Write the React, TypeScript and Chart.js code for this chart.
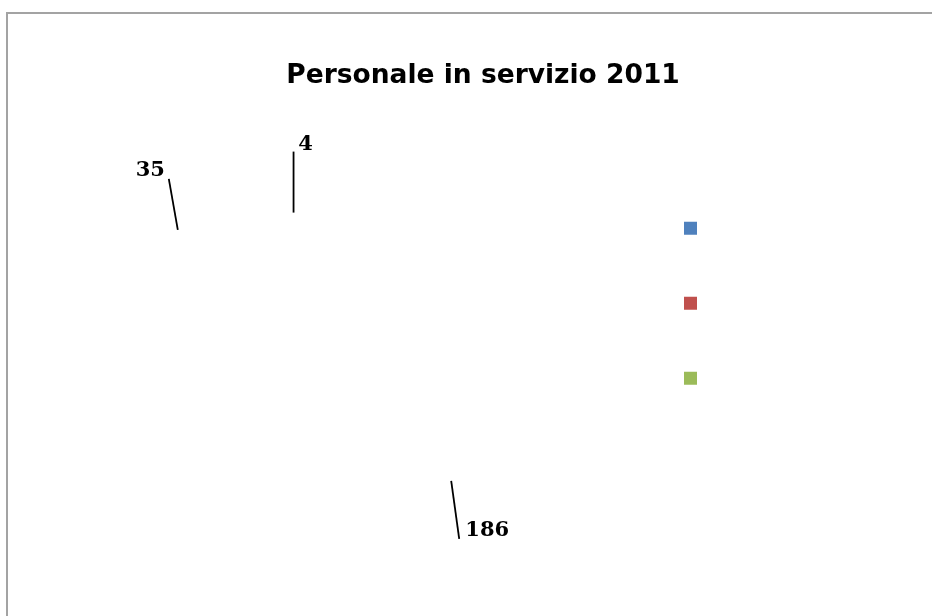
import { useEffect, useRef } from 'react';
import { Chart, registerables, layouts } from 'chart.js';

Chart.register(...registerables);

// ---- chart content ----
const TITLE = 'Personale in servizio 2011';
// legend entries carry no caption, only the colour swatch
const CATEGORIES = ['', '', ''];
const VALUES = [35, 4, 186];
const SLICE_COLORS = ['#4F81BD', '#C0504D', '#9BBB59'];

// ---- pie geometry / label styling ----
const PIE_RADIUS = 200;
const PIE_ROTATION = -50;
// where on each slice's rim (0 = start, 1 = end) the leader line begins
const LEADER_ANCHOR = [0.437, 0.39, 0.33];
// leader line direction and length from the rim, in px
const LEADER_VECTOR: [number, number][] = [[-9, -51], [0, -61], [8, 58]];
// value label centre relative to the outer end of its leader line
const LABEL_OFFSET: [number, number][] = [[-18.5, -8], [12, -7], [28, -8]];

const CANVAS_W = 1154;
const CANVAS_H = 661;
// blank strip of the chart to the right of the legend
const RIGHT_MARGIN = 346.5;

// Draws a leader line from each slice's rim and the slice value beside it.
const leaderLabels = {
  id: 'leaderLabels',
  afterDatasetsDraw(chart: any) {
    const { ctx } = chart;
    const meta = chart.getDatasetMeta(0);
    const values = chart.data.datasets[0].data as number[];
    ctx.save();
    ctx.strokeStyle = '#000';
    ctx.lineWidth = 1.8;
    ctx.fillStyle = '#000';
    ctx.font = 'bold 21px "DejaVu Serif"';
    ctx.textAlign = 'center';
    ctx.textBaseline = 'middle';
    meta.data.forEach((arc: any, i: number) => {
      const { x, y, startAngle, endAngle, outerRadius } = arc.getProps(
        ['x', 'y', 'startAngle', 'endAngle', 'outerRadius'],
        true
      );
      const a = startAngle + LEADER_ANCHOR[i] * (endAngle - startAngle);
      const sx = x + Math.cos(a) * outerRadius;
      const sy = y + Math.sin(a) * outerRadius;
      const ex = sx + LEADER_VECTOR[i][0];
      const ey = sy + LEADER_VECTOR[i][1];
      ctx.beginPath();
      ctx.moveTo(sx, sy);
      ctx.lineTo(ex, ey);
      ctx.stroke();
      ctx.fillText(String(values[i]), ex + LABEL_OFFSET[i][0], ey + LABEL_OFFSET[i][1]);
    });
    ctx.restore();
  },
};

// Reserves an empty layout box outside the legend on the right-hand side.
const rightMargin = {
  id: 'rightMargin',
  start(chart: any) {
    const box: any = {
      position: 'right',
      weight: 2000,
      fullSize: true,
      options: {},
      left: 0,
      top: 0,
      right: 0,
      bottom: 0,
      width: 0,
      height: 0,
      isHorizontal() {
        return false;
      },
      update(_maxWidth: number, maxHeight: number) {
        this.width = RIGHT_MARGIN;
        this.height = maxHeight;
      },
      draw() {},
    };
    chart.$rightMargin = box;
    layouts.addBox(chart, box);
  },
  stop(chart: any) {
    if (chart.$rightMargin) layouts.removeBox(chart, chart.$rightMargin);
    delete chart.$rightMargin;
  },
};

export default function App() {
  const canvasRef = useRef<HTMLCanvasElement | null>(null);

  useEffect(() => {
    const canvas = canvasRef.current;
    if (!canvas) return;
    const chart = new Chart(canvas, {
      type: 'pie',
      data: {
        labels: CATEGORIES,
        datasets: [
          {
            data: VALUES,
            backgroundColor: 'rgba(0,0,0,0)',
            borderWidth: 0,
          },
        ],
      },
      options: {
        responsive: false,
        animation: false,
        devicePixelRatio: 1,
        events: [],
        radius: PIE_RADIUS,
        rotation: PIE_ROTATION,
        layout: { padding: 0 },
        plugins: {
          title: {
            display: true,
            text: TITLE,
            align: 'center',
            color: '#000',
            font: { family: '"DejaVu Sans"', weight: 'bold', size: 26.5, lineHeight: 1.2 },
            padding: { top: 60, bottom: 68 },
          },
          legend: {
            position: 'right',
            align: 'start',
            fullSize: false,
            labels: {
              boxWidth: 13,
              boxHeight: 13,
              padding: 62,
              font: { size: 13 },
              generateLabels: () =>
                CATEGORIES.map((text, i) => ({
                  text,
                  fillStyle: SLICE_COLORS[i],
                  strokeStyle: SLICE_COLORS[i],
                  lineWidth: 0,
                  hidden: false,
                  index: i,
                })),
            },
          },
          tooltip: { enabled: false },
        },
      } as any,
      plugins: [leaderLabels, rightMargin],
    });
    return () => chart.destroy();
  }, []);

  return (
    <div
      style={{
        position: 'fixed',
        left: 0,
        top: 0,
        width: 932,
        height: 616,
        overflow: 'hidden',
        background: '#fff',
      }}
    >
      <div
        style={{
          position: 'absolute',
          left: 6,
          top: 12,
          width: 1000,
          height: 700,
          borderTop: '2px solid #a3a3a3',
          borderLeft: '2px solid #a3a3a3',
        }}
      />
      <canvas
        ref={canvasRef}
        width={CANVAS_W}
        height={CANVAS_H}
        style={{ position: 'absolute', left: -94, top: 0 }}
      />
    </div>
  );
}
